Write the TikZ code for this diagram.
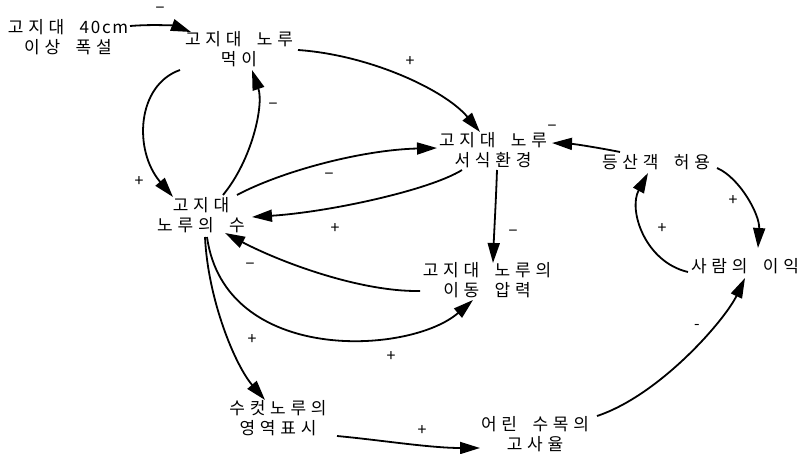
\documentclass[tikz,border=0pt]{standalone}
\usepackage{fontspec}
\newfontfamily\krfont[LetterSpace=28,WordSpace=1.8]{Noto Sans CJK KR}
\newfontfamily\latfont[LetterSpace=10]{Noto Sans CJK KR}
\newfontfamily\signfont{Noto Sans CJK KR}
\usetikzlibrary{arrows.meta,calc}
\begin{document}
\begin{tikzpicture}[x=1pt,y=-1pt,
  var/.style={inner sep=0pt, align=center, font=\krfont\fontsize{17}{20}\selectfont, text=black},
  sign/.style={inner sep=0pt, font=\signfont\fontsize{16}{16}\selectfont},
  causal/.style={line width=1.8pt, -{Triangle[length=20pt,width=12pt]}}]
\path[use as bounding box, fill=white] (0,0) rectangle (801,454);
% nodes
\node[var] (A) at (68,37) {고지대 {\latfont 40cm}\\이상 폭설};
\node[var] (B) at (239,49) {고지대 노루\\먹이};
\node[var] (C) at (493,150) {고지대 노루\\서식환경};
\node[var] (D) at (656,162) {등산객 허용};
\node[var] (E) at (201,215) {고지대\\노루의 수};
\node[var] (F) at (487,280) {고지대 노루의\\이동 압력};
\node[var] (G) at (745,266) {사람의 이익};
\node[var] (H) at (278,418) {수컷노루의\\영역표시};
\node[var] (I) at (535,434) {어린 수목의\\고사율};
% connectors
\draw[causal] ($(A)+(62,-11)$) .. controls (155,24) and (175,26) .. ($(B)+(-48,-17)$);
\draw[causal] ($(B)+(59,1)$) .. controls (370,55) and (445,90) .. ($(C)+(-13,-18)$);
\draw[causal] ($(B)+(-59,21)$) .. controls (137,85) and (133,150) .. ($(E)+(-28,-18)$);
\draw[causal] ($(E)+(22,-20)$) .. controls (252,160) and (264,105) .. ($(B)+(13,21)$);
\draw[causal] ($(E)+(36,-20)$) .. controls (280,172) and (360,150) .. ($(C)+(-56,-2)$);
\draw[causal] ($(C)+(-31,20)$) .. controls (430,190) and (330,212) .. ($(E)+(51,2)$);
\draw[causal] ($(C)+(4,20)$) .. controls (496,200) and (494,235) .. ($(F)+(6,-17)$);
\draw[causal] ($(D)+(-36,-10)$) .. controls (600,148) and (575,144) .. ($(C)+(59,-7)$);
\draw[causal] ($(D)+(61,6)$) .. controls (740,178) and (760,215) .. ($(G)+(13,-18)$);
\draw[causal] ($(G)+(-57,6)$) .. controls (645,262) and (628,210) .. ($(D)+(-8,11)$);
\draw[causal] ($(F)+(-67,11)$) .. controls (360,292) and (280,262) .. ($(E)+(24,18)$);
\draw[causal] ($(E)+(6,22)$) .. controls (225,365) and (410,355) .. ($(F)+(-14,20)$);
\draw[causal] ($(E)+(4,22)$) .. controls (208,300) and (235,365) .. ($(H)+(-13,-18)$);
\draw[causal] ($(H)+(59,18)$) .. controls (380,440) and (430,448) .. ($(I)+(-55,14)$);
\draw[causal] ($(I)+(62,-18)$) .. controls (660,395) and (725,320) .. ($(G)+(0,12)$);
% polarity signs
\node[sign] (s1) at (160,10) {−};
\node[sign] (s2) at (410,62) {+};
\node[sign] (s3) at (139,182) {+};
\node[sign] (s4) at (273,106) {−};
\node[sign] (s5) at (329,176) {−};
\node[sign] (s6) at (335,229) {+};
\node[sign] (s7) at (513,233) {−};
\node[sign] (s8) at (552,128) {−};
\node[sign] (s9) at (733,201) {+};
\node[sign] (s10) at (662,229) {+};
\node[sign] (s11) at (250,266) {−};
\node[sign] (s12) at (391,357) {+};
\node[sign] (s13) at (252,340) {+};
\node[sign] (s14) at (422,431) {+};
\node[sign] (s15) at (697,327) {-};
\end{tikzpicture}
\end{document}
